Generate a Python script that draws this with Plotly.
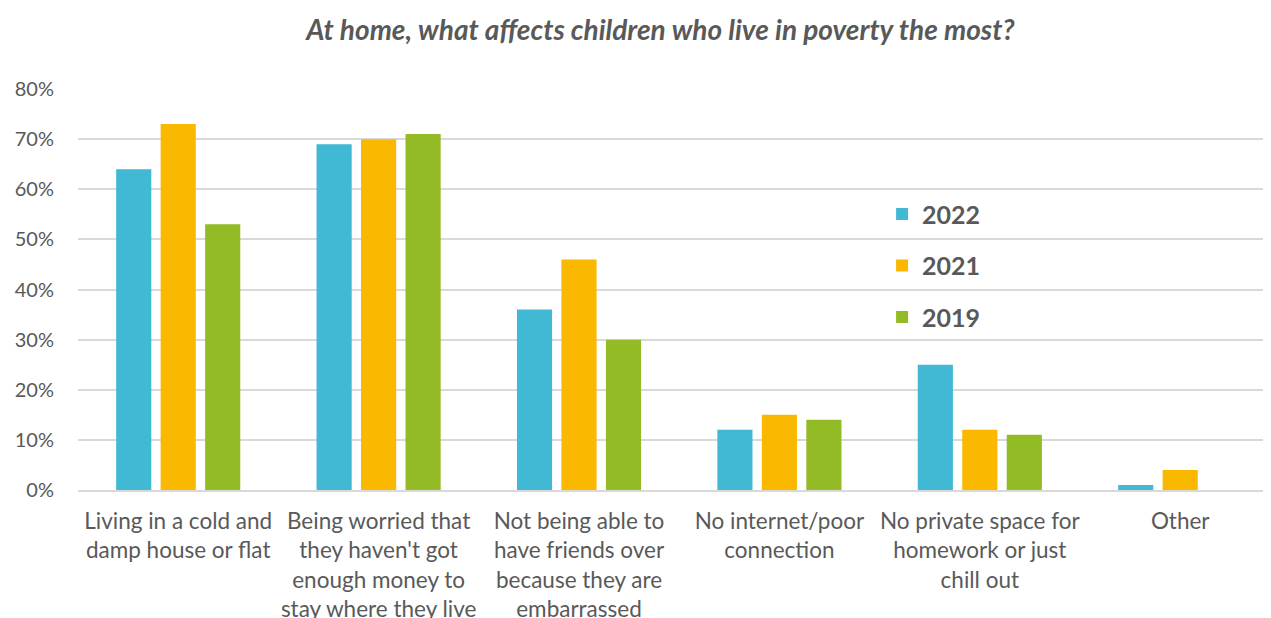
import plotly.graph_objects as go

categories = [
    "Living in a cold and<br>damp house or flat",
    "Being worried that<br>they haven't got<br>enough money to<br>stay where they live",
    "Not being able to<br>have friends over<br>because they are<br>embarrassed",
    "No internet/poor<br>connection",
    "No private space for<br>homework or just<br>chill out",
    "Other",
]
years = ["2022", "2021", "2019"]
values_2022 = [64, 69, 36, 12, 25, 1]
values_2021 = [73, 70, 46, 15, 12, 4]
values_2019 = [53, 71, 30, 14, 11, 0]
colors = {"2022": "#41B9D4", "2021": "#FAB800", "2019": "#93BB25"}
series = {"2022": values_2022, "2021": values_2021, "2019": values_2019}

FONT = "Lato"
GREY = "#595959"

fig = go.Figure()
for i, y in enumerate(years):
    fig.add_trace(go.Bar(
        x=categories, y=series[y], name=y,
        marker=dict(color=colors[y], line=dict(width=0)),
        legendgroup=y,
    ))

# page body has an 8px default margin, so the figure is offset by 8px
fig.update_layout(
    width=1263, height=610,
    paper_bgcolor="white", plot_bgcolor="white",
    margin=dict(l=70, r=0, t=81, b=128),
    barmode="group", bargap=0.334, bargroupgap=0.21,
    title=dict(
        text="<b><i>At home, what affects children who live in poverty the most?</i></b>",
        x=0.5165, xanchor="center", y=0.964, yanchor="middle",
        font=dict(family=FONT, size=28, color=GREY),
    ),
    font=dict(family=FONT, color=GREY),
    legend=dict(
        x=0.674, y=0.745, xanchor="left", yanchor="top",
        font=dict(family=FONT, size=25, color=GREY, weight="bold"),
        tracegroupgap=16, bgcolor="rgba(0,0,0,0)",
        itemwidth=30,
    ),
    showlegend=True,
)
fig.update_xaxes(
    range=[-0.5, 5.453], automargin=False,
    showline=True, linecolor="#D9D9D9", linewidth=2,
    ticks="", tickfont=dict(family=FONT, size=22.5, color=GREY),
    ticklabelstandoff=10,
)
fig.update_yaxes(
    range=[0, 80], dtick=10, ticksuffix="%", automargin=False,
    showgrid=True, gridcolor="#D9D9D9", gridwidth=2,
    zeroline=False,
    tickfont=dict(family=FONT, size=20, color=GREY),
    ticklabelstandoff=23,
)

fig.write_html("out.html")
